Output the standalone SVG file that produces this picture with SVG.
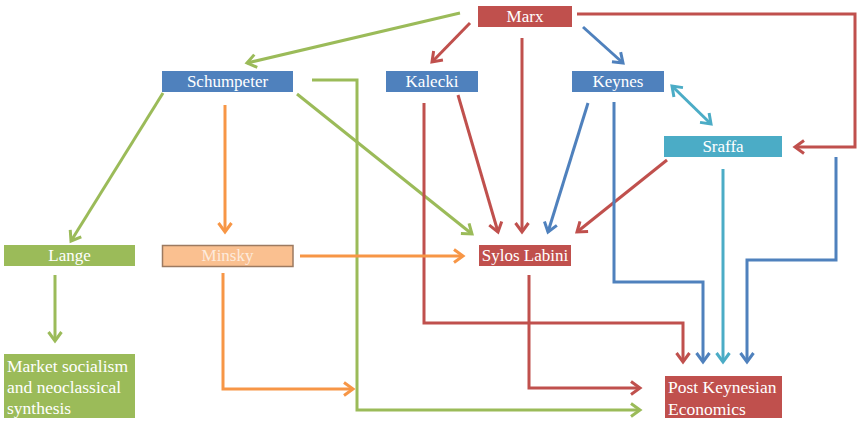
<svg xmlns="http://www.w3.org/2000/svg" width="866" height="425" viewBox="0 0 866 425">
<style>
.n text{font-size:17px;fill:#fff;text-anchor:middle}
.c path{fill:none;stroke-width:3;stroke-linejoin:miter}
.r{stroke:#C0504D;marker-end:url(#mr)}
.b{stroke:#4F81BD;marker-end:url(#mb)}
.g{stroke:#9BBB59;marker-end:url(#mg)}
.t{stroke:#4BACC6;marker-end:url(#mt)}
.o{stroke:#F79646;marker-end:url(#mo)}
</style>
<defs>
<marker id="mr" markerUnits="userSpaceOnUse" markerWidth="30" markerHeight="30" refX="0" refY="0" viewBox="-15 -15 30 30" orient="auto" overflow="visible"><path d="M-9,-6.5 L0,0 L-9,6.5" fill="none" stroke="#C0504D" stroke-width="3"/></marker>
<marker id="mb" markerUnits="userSpaceOnUse" markerWidth="30" markerHeight="30" refX="0" refY="0" viewBox="-15 -15 30 30" orient="auto" overflow="visible"><path d="M-9,-6.5 L0,0 L-9,6.5" fill="none" stroke="#4F81BD" stroke-width="3"/></marker>
<marker id="mg" markerUnits="userSpaceOnUse" markerWidth="30" markerHeight="30" refX="0" refY="0" viewBox="-15 -15 30 30" orient="auto" overflow="visible"><path d="M-9,-6.5 L0,0 L-9,6.5" fill="none" stroke="#9BBB59" stroke-width="3"/></marker>
<marker id="mt" markerUnits="userSpaceOnUse" markerWidth="30" markerHeight="30" refX="0" refY="0" viewBox="-15 -15 30 30" orient="auto-start-reverse" overflow="visible"><path d="M-9,-6.5 L0,0 L-9,6.5" fill="none" stroke="#4BACC6" stroke-width="3"/></marker>
<marker id="mo" markerUnits="userSpaceOnUse" markerWidth="30" markerHeight="30" refX="0" refY="0" viewBox="-15 -15 30 30" orient="auto" overflow="visible"><path d="M-9,-6.5 L0,0 L-9,6.5" fill="none" stroke="#F79646" stroke-width="3"/></marker>
</defs>
<rect width="866" height="425" fill="#fff"/>
<g id="connectors" class="c">
<path class="g" d="M460,13 L247,63"/>
<path class="g" d="M163,93 L71,241"/>
<path class="g" d="M297,94 L472,234"/>
<path class="g" d="M312,80 H357 V410 H640"/>
<path class="g" d="M55,275 V341"/>
<path class="r" d="M470,23 L432,62"/>
<path class="r" d="M522,38 V232"/>
<path class="r" d="M577,14 H855 V147 H795"/>
<path class="r" d="M458,95 L498,232"/>
<path class="r" d="M424,103 V323 H683 V362"/>
<path class="r" d="M667,160 L577,232"/>
<path class="r" d="M529,275 V388 H640"/>
<path class="b" d="M583,27 L623,63"/>
<path class="b" d="M588,103 L548,232"/>
<path class="b" d="M614,102 V282 H703 V362"/>
<path class="b" d="M836,157 V260 H747 V362"/>
<path class="t" d="M672,86 L711,124" marker-start="url(#mt)"/>
<path class="t" d="M723,169 V362"/>
<path class="o" d="M225,105 V232"/>
<path class="o" d="M300,256 H463"/>
<path class="o" d="M223,273 V389 H353"/>
</g>
<g font-family="'Liberation Serif', 'DejaVu Serif', serif">
<g id="marx" class="n"><rect x="478" y="6" width="94" height="21" fill="#C0504D"/><text x="525" y="22">Marx</text></g>
<g id="schumpeter" class="n"><rect x="162" y="71" width="131" height="21" fill="#4F81BD"/><text x="227.5" y="87">Schumpeter</text></g>
<g id="kalecki" class="n"><rect x="386" y="71" width="92" height="21" fill="#4F81BD"/><text x="432" y="87">Kalecki</text></g>
<g id="keynes" class="n"><rect x="572" y="71" width="92" height="21" fill="#4F81BD"/><text x="618" y="87">Keynes</text></g>
<g id="sraffa" class="n"><rect x="664" y="136" width="118" height="21" fill="#4BACC6"/><text x="723" y="152">Sraffa</text></g>
<g id="lange" class="n"><rect x="4" y="245" width="131" height="21" fill="#9BBB59"/><text x="69.5" y="261">Lange</text></g>
<g id="minsky" class="n"><rect x="162.5" y="245.5" width="130.5" height="21" fill="#FAC090" stroke="#9C7A60" stroke-width="1.5"/><text x="227.5" y="261" style="fill:#FDEBDD">Minsky</text></g>
<g id="sylos" class="n"><rect x="479" y="245" width="92" height="21" fill="#C0504D"/><text x="525" y="261">Sylos Labini</text></g>
<g id="market" class="n"><rect x="4" y="354" width="131" height="64" fill="#9BBB59"/><text x="7" y="372" style="text-anchor:start;font-size:17.5px">Market socialism<tspan x="7" y="393">and neoclassical</tspan><tspan x="7" y="414">synthesis</tspan></text></g>
<g id="pke" class="n"><rect x="665" y="376" width="117" height="42" fill="#C0504D"/><text x="668" y="393" style="text-anchor:start;font-size:17.5px">Post Keynesian<tspan x="668" y="415">Economics</tspan></text></g>
</g>
</svg>
